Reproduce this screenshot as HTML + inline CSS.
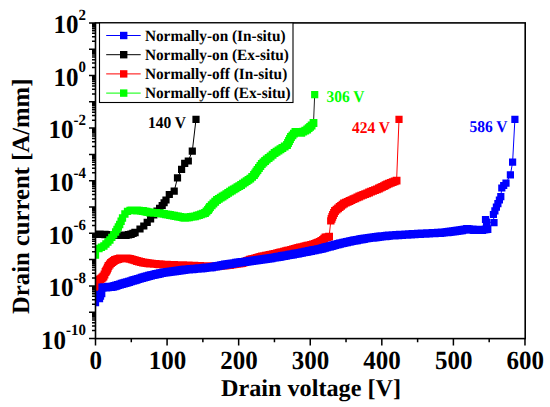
<!DOCTYPE html>
<html><head><meta charset="utf-8"><style>
html,body{margin:0;padding:0;background:#fff;width:550px;height:407px;overflow:hidden}
svg{display:block}
text{font-family:"Liberation Serif",serif;font-weight:bold;text-rendering:geometricPrecision}
</style></head><body>
<svg width="550" height="407" viewBox="0 0 550 407">
<rect width="550" height="407" fill="#fff"/>
<defs><clipPath id="pa"><rect x="95.4" y="22.9" width="429.8" height="315.7"/></clipPath></defs><g clip-path="url(#pa)">
<path d="M95.50,234.20 L97.75,234.25 L100.00,234.30 L102.50,234.40 L105.00,234.50 L107.00,234.64 L109.00,234.78 L111.00,234.92 L113.00,235.06 L115.00,235.20 L117.20,235.20 L119.40,235.20 L121.60,235.20 L123.80,235.20 L126.00,235.20 L128.50,234.75 L131.00,234.30 L133.00,233.40 L135.00,232.50 L140.00,229.00 L143.80,226.00 L147.20,222.40 L150.60,218.80 L153.80,214.90 L157.00,211.00 L159.60,208.25 L162.20,205.50 L164.10,202.75 L166.00,200.00 L169.30,194.50 L174.20,191.10 L177.50,177.90 L181.60,169.30 L184.70,163.40 L188.30,161.00 L192.30,151.10 L196.00,119.30" fill="none" stroke="#000" stroke-width="1"/>
<path d="M91.80,230.50h7.4v7.4h-7.4zM94.05,230.55h7.4v7.4h-7.4zM96.30,230.60h7.4v7.4h-7.4zM98.80,230.70h7.4v7.4h-7.4zM101.30,230.80h7.4v7.4h-7.4zM103.30,230.94h7.4v7.4h-7.4zM105.30,231.08h7.4v7.4h-7.4zM107.30,231.22h7.4v7.4h-7.4zM109.30,231.36h7.4v7.4h-7.4zM111.30,231.50h7.4v7.4h-7.4zM113.50,231.50h7.4v7.4h-7.4zM115.70,231.50h7.4v7.4h-7.4zM117.90,231.50h7.4v7.4h-7.4zM120.10,231.50h7.4v7.4h-7.4zM122.30,231.50h7.4v7.4h-7.4zM124.80,231.05h7.4v7.4h-7.4zM127.30,230.60h7.4v7.4h-7.4zM129.30,229.70h7.4v7.4h-7.4zM131.30,228.80h7.4v7.4h-7.4zM136.40,225.40h7.2v7.2h-7.2zM140.20,222.40h7.2v7.2h-7.2zM143.60,218.80h7.2v7.2h-7.2zM147.00,215.20h7.2v7.2h-7.2zM150.20,211.30h7.2v7.2h-7.2zM153.40,207.40h7.2v7.2h-7.2zM156.00,204.65h7.2v7.2h-7.2zM158.60,201.90h7.2v7.2h-7.2zM160.50,199.15h7.2v7.2h-7.2zM162.40,196.40h7.2v7.2h-7.2zM165.70,190.90h7.2v7.2h-7.2zM170.60,187.50h7.2v7.2h-7.2zM173.90,174.30h7.2v7.2h-7.2zM178.00,165.70h7.2v7.2h-7.2zM181.10,159.80h7.2v7.2h-7.2zM184.70,157.40h7.2v7.2h-7.2zM188.70,147.50h7.2v7.2h-7.2zM192.40,115.70h7.2v7.2h-7.2z" fill="#000"/>
<path d="M95.50,255.00 L95.50,252.50 L95.50,250.00 L99.00,248.50 L101.45,247.25 L103.90,246.00 L105.90,244.00 L107.90,242.00 L109.90,240.00 L111.80,237.33 L113.70,234.67 L115.60,232.00 L116.97,229.50 L118.33,227.00 L119.70,224.50 L121.10,221.25 L122.50,218.00 L124.90,214.00 L127.50,211.30 L130.00,210.50 L131.67,210.43 L133.33,210.37 L135.00,210.30 L137.00,210.48 L139.00,210.65 L141.00,210.82 L143.00,211.00 L144.75,211.38 L146.50,211.75 L148.25,212.12 L150.00,212.50 L152.00,212.64 L154.00,212.78 L156.00,212.92 L158.00,213.06 L160.00,213.20 L162.00,213.56 L164.00,213.92 L166.00,214.28 L168.00,214.64 L170.00,215.00 L172.00,215.38 L174.00,215.76 L176.00,216.14 L178.00,216.52 L180.00,216.90 L181.67,217.20 L183.33,217.50 L185.00,217.80 L187.00,217.52 L189.00,217.24 L191.00,216.96 L193.00,216.68 L195.00,216.40 L197.00,215.72 L199.00,215.04 L201.00,214.36 L203.00,213.68 L205.00,213.00 L206.50,211.50 L208.00,210.00 L209.00,208.50 L210.00,207.00 L211.70,205.25 L213.40,203.50 L215.20,201.75 L217.00,200.00 L218.87,198.83 L220.73,197.67 L222.60,196.50 L224.46,195.30 L226.32,194.10 L228.18,192.90 L230.04,191.70 L231.90,190.50 L233.74,189.40 L235.58,188.30 L237.42,187.20 L239.26,186.10 L241.10,185.00 L242.94,183.72 L244.78,182.44 L246.62,181.16 L248.46,179.88 L250.30,178.60 L252.15,176.80 L254.00,175.00 L255.17,173.33 L256.33,171.67 L257.50,170.00 L258.93,168.00 L260.37,166.00 L261.80,164.00 L263.43,162.50 L265.07,161.00 L266.70,159.50 L268.65,158.00 L270.60,156.50 L272.60,154.75 L274.60,153.00 L276.55,151.75 L278.50,150.50 L280.45,149.25 L282.40,148.00 L284.70,146.50 L287.00,145.00 L288.00,143.00 L289.00,141.00 L290.00,139.00 L291.00,137.00 L292.47,135.33 L293.93,133.67 L295.40,132.00 L297.37,132.27 L299.33,132.53 L301.30,132.80 L303.27,131.70 L305.23,130.60 L307.20,129.50 L308.67,128.17 L310.13,126.83 L311.60,125.50 L313.50,123.00 L314.70,94.70" fill="none" stroke="#222" stroke-width="1"/>
<path d="M91.85,251.35h7.3v7.3h-7.3zM91.85,248.85h7.3v7.3h-7.3zM91.85,246.35h7.3v7.3h-7.3zM95.35,244.85h7.3v7.3h-7.3zM97.80,243.60h7.3v7.3h-7.3zM100.25,242.35h7.3v7.3h-7.3zM102.25,240.35h7.3v7.3h-7.3zM104.25,238.35h7.3v7.3h-7.3zM106.25,236.35h7.3v7.3h-7.3zM108.15,233.68h7.3v7.3h-7.3zM110.05,231.02h7.3v7.3h-7.3zM111.95,228.35h7.3v7.3h-7.3zM113.32,225.85h7.3v7.3h-7.3zM114.68,223.35h7.3v7.3h-7.3zM116.05,220.85h7.3v7.3h-7.3zM117.45,217.60h7.3v7.3h-7.3zM118.85,214.35h7.3v7.3h-7.3zM121.25,210.35h7.3v7.3h-7.3zM123.85,207.65h7.3v7.3h-7.3zM126.35,206.85h7.3v7.3h-7.3zM127.77,206.53h7.8v7.8h-7.8zM129.43,206.47h7.8v7.8h-7.8zM131.10,206.40h7.8v7.8h-7.8zM133.10,206.58h7.8v7.8h-7.8zM135.10,206.75h7.8v7.8h-7.8zM137.10,206.92h7.8v7.8h-7.8zM139.10,207.10h7.8v7.8h-7.8zM140.85,207.47h7.8v7.8h-7.8zM142.60,207.85h7.8v7.8h-7.8zM144.35,208.22h7.8v7.8h-7.8zM146.10,208.60h7.8v7.8h-7.8zM148.10,208.74h7.8v7.8h-7.8zM150.10,208.88h7.8v7.8h-7.8zM152.10,209.02h7.8v7.8h-7.8zM154.10,209.16h7.8v7.8h-7.8zM156.10,209.30h7.8v7.8h-7.8zM158.10,209.66h7.8v7.8h-7.8zM160.10,210.02h7.8v7.8h-7.8zM162.10,210.38h7.8v7.8h-7.8zM164.10,210.74h7.8v7.8h-7.8zM166.10,211.10h7.8v7.8h-7.8zM168.10,211.48h7.8v7.8h-7.8zM170.10,211.86h7.8v7.8h-7.8zM172.10,212.24h7.8v7.8h-7.8zM174.10,212.62h7.8v7.8h-7.8zM176.10,213.00h7.8v7.8h-7.8zM177.77,213.30h7.8v7.8h-7.8zM179.43,213.60h7.8v7.8h-7.8zM181.10,213.90h7.8v7.8h-7.8zM183.10,213.62h7.8v7.8h-7.8zM185.10,213.34h7.8v7.8h-7.8zM187.10,213.06h7.8v7.8h-7.8zM189.10,212.78h7.8v7.8h-7.8zM191.10,212.50h7.8v7.8h-7.8zM193.10,211.82h7.8v7.8h-7.8zM195.10,211.14h7.8v7.8h-7.8zM197.10,210.46h7.8v7.8h-7.8zM199.10,209.78h7.8v7.8h-7.8zM201.10,209.10h7.8v7.8h-7.8zM202.60,207.60h7.8v7.8h-7.8zM204.10,206.10h7.8v7.8h-7.8zM205.10,204.60h7.8v7.8h-7.8zM206.10,203.10h7.8v7.8h-7.8zM207.80,201.35h7.8v7.8h-7.8zM209.50,199.60h7.8v7.8h-7.8zM211.30,197.85h7.8v7.8h-7.8zM213.10,196.10h7.8v7.8h-7.8zM214.97,194.93h7.8v7.8h-7.8zM216.83,193.77h7.8v7.8h-7.8zM218.70,192.60h7.8v7.8h-7.8zM220.56,191.40h7.8v7.8h-7.8zM222.42,190.20h7.8v7.8h-7.8zM224.28,189.00h7.8v7.8h-7.8zM226.14,187.80h7.8v7.8h-7.8zM228.00,186.60h7.8v7.8h-7.8zM229.84,185.50h7.8v7.8h-7.8zM231.68,184.40h7.8v7.8h-7.8zM233.52,183.30h7.8v7.8h-7.8zM235.36,182.20h7.8v7.8h-7.8zM237.20,181.10h7.8v7.8h-7.8zM239.04,179.82h7.8v7.8h-7.8zM240.88,178.54h7.8v7.8h-7.8zM242.72,177.26h7.8v7.8h-7.8zM244.56,175.98h7.8v7.8h-7.8zM246.40,174.70h7.8v7.8h-7.8zM248.25,172.90h7.8v7.8h-7.8zM250.10,171.10h7.8v7.8h-7.8zM251.27,169.43h7.8v7.8h-7.8zM252.43,167.77h7.8v7.8h-7.8zM253.60,166.10h7.8v7.8h-7.8zM255.03,164.10h7.8v7.8h-7.8zM256.47,162.10h7.8v7.8h-7.8zM257.90,160.10h7.8v7.8h-7.8zM259.53,158.60h7.8v7.8h-7.8zM261.17,157.10h7.8v7.8h-7.8zM262.80,155.60h7.8v7.8h-7.8zM264.75,154.10h7.8v7.8h-7.8zM266.70,152.60h7.8v7.8h-7.8zM268.70,150.85h7.8v7.8h-7.8zM270.70,149.10h7.8v7.8h-7.8zM272.65,147.85h7.8v7.8h-7.8zM274.60,146.60h7.8v7.8h-7.8zM276.55,145.35h7.8v7.8h-7.8zM278.50,144.10h7.8v7.8h-7.8zM280.80,142.60h7.8v7.8h-7.8zM283.10,141.10h7.8v7.8h-7.8zM284.10,139.10h7.8v7.8h-7.8zM285.10,137.10h7.8v7.8h-7.8zM286.10,135.10h7.8v7.8h-7.8zM287.10,133.10h7.8v7.8h-7.8zM288.57,131.43h7.8v7.8h-7.8zM290.03,129.77h7.8v7.8h-7.8zM291.50,128.10h7.8v7.8h-7.8zM293.47,128.37h7.8v7.8h-7.8zM295.43,128.63h7.8v7.8h-7.8zM297.40,128.90h7.8v7.8h-7.8zM299.37,127.80h7.8v7.8h-7.8zM301.33,126.70h7.8v7.8h-7.8zM303.30,125.60h7.8v7.8h-7.8zM304.77,124.27h7.8v7.8h-7.8zM306.23,122.93h7.8v7.8h-7.8zM307.70,121.60h7.8v7.8h-7.8zM309.60,119.10h7.8v7.8h-7.8zM311.10,91.10h7.2v7.2h-7.2z" fill="#00ff00"/>
<path d="M95.50,287.30 L95.50,282.00 L99.00,280.00 L100.25,279.25 L101.50,278.50 L102.50,277.50 L103.50,276.50 L104.50,274.50 L105.50,272.00 L106.25,270.75 L107.00,269.50 L107.75,267.75 L108.50,266.00 L109.75,264.50 L111.00,263.00 L112.33,262.00 L113.67,261.00 L115.00,260.00 L116.67,259.50 L118.33,259.00 L120.00,258.50 L121.67,258.43 L123.33,258.37 L125.00,258.30 L126.67,258.47 L128.33,258.63 L130.00,258.80 L131.75,259.35 L133.50,259.90 L135.25,260.45 L137.00,261.00 L139.00,261.50 L141.00,262.00 L143.00,262.50 L144.75,262.75 L146.50,263.00 L148.25,263.25 L150.00,263.50 L151.88,263.65 L153.75,263.80 L155.62,263.95 L157.50,264.10 L159.38,264.25 L161.25,264.40 L163.12,264.55 L165.00,264.70 L166.82,264.75 L168.64,264.81 L170.45,264.86 L172.27,264.92 L174.09,264.97 L175.91,265.03 L177.73,265.08 L179.55,265.14 L181.36,265.19 L183.18,265.25 L185.00,265.30 L186.88,265.39 L188.75,265.48 L190.62,265.56 L192.50,265.65 L194.38,265.74 L196.25,265.82 L198.12,265.91 L200.00,266.00 L201.78,266.04 L203.56,266.09 L205.33,266.13 L207.11,266.18 L208.89,266.22 L210.67,266.27 L212.44,266.31 L214.22,266.36 L216.00,266.40 L217.75,266.22 L219.50,266.05 L221.25,265.88 L223.00,265.70 L224.75,265.52 L226.50,265.35 L228.25,265.18 L230.00,265.00 L231.79,264.71 L233.57,264.43 L235.36,264.14 L237.14,263.86 L238.93,263.57 L240.71,263.29 L242.50,263.00 L244.00,262.34 L245.50,261.68 L247.00,261.02 L248.50,260.36 L250.00,259.70 L251.71,259.24 L253.43,258.79 L255.14,258.33 L256.86,257.87 L258.57,257.41 L260.29,256.96 L262.00,256.50 L263.86,256.11 L265.71,255.73 L267.57,255.34 L269.43,254.96 L271.29,254.57 L273.14,254.19 L275.00,253.80 L276.79,253.36 L278.57,252.93 L280.36,252.49 L282.15,252.05 L283.94,251.61 L285.73,251.18 L287.51,250.74 L289.30,250.30 L291.08,249.83 L292.87,249.37 L294.65,248.90 L296.43,248.43 L298.22,247.97 L300.00,247.50 L301.85,247.06 L303.70,246.62 L305.55,246.19 L307.40,245.75 L309.25,245.31 L311.10,244.88 L312.95,244.44 L314.80,244.00 L316.40,243.27 L318.00,242.53 L319.60,241.80 L321.30,240.90 L323.00,240.00 L324.25,238.75 L325.50,237.50 L327.30,237.05 L329.10,236.60 L330.80,220.90 L331.53,218.93 L332.27,216.97 L333.00,215.00 L334.00,213.00 L335.00,211.00 L336.53,209.67 L338.07,208.33 L339.60,207.00 L341.07,205.83 L342.53,204.67 L344.00,203.50 L345.83,202.67 L347.67,201.83 L349.50,201.00 L351.46,200.10 L353.42,199.20 L355.38,198.30 L357.34,197.40 L359.30,196.50 L361.26,195.70 L363.22,194.90 L365.18,194.10 L367.14,193.30 L369.10,192.50 L371.06,191.70 L373.02,190.90 L374.98,190.10 L376.94,189.30 L378.90,188.50 L380.55,187.68 L382.20,186.87 L383.85,186.05 L385.50,185.23 L387.15,184.42 L388.80,183.60 L390.75,182.85 L392.70,182.10 L394.65,181.35 L396.60,180.60 L399.00,119.40" fill="none" stroke="#ff0000" stroke-width="1"/>
<path d="M91.85,283.65h7.3v7.3h-7.3zM91.85,278.35h7.3v7.3h-7.3zM95.10,276.10h7.8v7.8h-7.8zM96.35,275.35h7.8v7.8h-7.8zM97.60,274.60h7.8v7.8h-7.8zM98.60,273.60h7.8v7.8h-7.8zM99.60,272.60h7.8v7.8h-7.8zM100.60,270.60h7.8v7.8h-7.8zM101.60,268.10h7.8v7.8h-7.8zM102.35,266.85h7.8v7.8h-7.8zM103.10,265.60h7.8v7.8h-7.8zM103.85,263.85h7.8v7.8h-7.8zM104.60,262.10h7.8v7.8h-7.8zM105.85,260.60h7.8v7.8h-7.8zM107.10,259.10h7.8v7.8h-7.8zM108.43,258.10h7.8v7.8h-7.8zM109.77,257.10h7.8v7.8h-7.8zM111.10,256.10h7.8v7.8h-7.8zM112.77,255.60h7.8v7.8h-7.8zM114.43,255.10h7.8v7.8h-7.8zM116.10,254.60h7.8v7.8h-7.8zM117.77,254.53h7.8v7.8h-7.8zM119.43,254.47h7.8v7.8h-7.8zM121.10,254.40h7.8v7.8h-7.8zM122.77,254.57h7.8v7.8h-7.8zM124.43,254.73h7.8v7.8h-7.8zM126.10,254.90h7.8v7.8h-7.8zM127.85,255.45h7.8v7.8h-7.8zM129.60,256.00h7.8v7.8h-7.8zM131.35,256.55h7.8v7.8h-7.8zM133.10,257.10h7.8v7.8h-7.8zM135.10,257.60h7.8v7.8h-7.8zM137.10,258.10h7.8v7.8h-7.8zM139.10,258.60h7.8v7.8h-7.8zM140.85,258.85h7.8v7.8h-7.8zM142.60,259.10h7.8v7.8h-7.8zM144.35,259.35h7.8v7.8h-7.8zM146.10,259.60h7.8v7.8h-7.8zM147.97,259.75h7.8v7.8h-7.8zM149.85,259.90h7.8v7.8h-7.8zM151.72,260.05h7.8v7.8h-7.8zM153.60,260.20h7.8v7.8h-7.8zM155.47,260.35h7.8v7.8h-7.8zM157.35,260.50h7.8v7.8h-7.8zM159.22,260.65h7.8v7.8h-7.8zM161.10,260.80h7.8v7.8h-7.8zM162.92,260.85h7.8v7.8h-7.8zM164.74,260.91h7.8v7.8h-7.8zM166.55,260.96h7.8v7.8h-7.8zM168.37,261.02h7.8v7.8h-7.8zM170.19,261.07h7.8v7.8h-7.8zM172.01,261.13h7.8v7.8h-7.8zM173.83,261.18h7.8v7.8h-7.8zM175.65,261.24h7.8v7.8h-7.8zM177.46,261.29h7.8v7.8h-7.8zM179.28,261.35h7.8v7.8h-7.8zM181.10,261.40h7.8v7.8h-7.8zM182.97,261.49h7.8v7.8h-7.8zM184.85,261.58h7.8v7.8h-7.8zM186.72,261.66h7.8v7.8h-7.8zM188.60,261.75h7.8v7.8h-7.8zM190.47,261.84h7.8v7.8h-7.8zM192.35,261.93h7.8v7.8h-7.8zM194.22,262.01h7.8v7.8h-7.8zM196.10,262.10h7.8v7.8h-7.8zM197.88,262.14h7.8v7.8h-7.8zM199.66,262.19h7.8v7.8h-7.8zM201.43,262.23h7.8v7.8h-7.8zM203.21,262.28h7.8v7.8h-7.8zM204.99,262.32h7.8v7.8h-7.8zM206.77,262.37h7.8v7.8h-7.8zM208.54,262.41h7.8v7.8h-7.8zM210.32,262.46h7.8v7.8h-7.8zM212.10,262.50h7.8v7.8h-7.8zM213.85,262.32h7.8v7.8h-7.8zM215.60,262.15h7.8v7.8h-7.8zM217.35,261.98h7.8v7.8h-7.8zM219.10,261.80h7.8v7.8h-7.8zM220.85,261.62h7.8v7.8h-7.8zM222.60,261.45h7.8v7.8h-7.8zM224.35,261.28h7.8v7.8h-7.8zM226.10,261.10h7.8v7.8h-7.8zM227.89,260.81h7.8v7.8h-7.8zM229.67,260.53h7.8v7.8h-7.8zM231.46,260.24h7.8v7.8h-7.8zM233.24,259.96h7.8v7.8h-7.8zM235.03,259.67h7.8v7.8h-7.8zM236.81,259.39h7.8v7.8h-7.8zM238.60,259.10h7.8v7.8h-7.8zM240.10,258.44h7.8v7.8h-7.8zM241.60,257.78h7.8v7.8h-7.8zM243.10,257.12h7.8v7.8h-7.8zM244.60,256.46h7.8v7.8h-7.8zM246.10,255.80h7.8v7.8h-7.8zM247.81,255.34h7.8v7.8h-7.8zM249.53,254.89h7.8v7.8h-7.8zM251.24,254.43h7.8v7.8h-7.8zM252.96,253.97h7.8v7.8h-7.8zM254.67,253.51h7.8v7.8h-7.8zM256.39,253.06h7.8v7.8h-7.8zM258.10,252.60h7.8v7.8h-7.8zM259.96,252.21h7.8v7.8h-7.8zM261.81,251.83h7.8v7.8h-7.8zM263.67,251.44h7.8v7.8h-7.8zM265.53,251.06h7.8v7.8h-7.8zM267.39,250.67h7.8v7.8h-7.8zM269.24,250.29h7.8v7.8h-7.8zM271.10,249.90h7.8v7.8h-7.8zM272.89,249.46h7.8v7.8h-7.8zM274.68,249.03h7.8v7.8h-7.8zM276.46,248.59h7.8v7.8h-7.8zM278.25,248.15h7.8v7.8h-7.8zM280.04,247.71h7.8v7.8h-7.8zM281.83,247.28h7.8v7.8h-7.8zM283.61,246.84h7.8v7.8h-7.8zM285.40,246.40h7.8v7.8h-7.8zM287.18,245.93h7.8v7.8h-7.8zM288.97,245.47h7.8v7.8h-7.8zM290.75,245.00h7.8v7.8h-7.8zM292.53,244.53h7.8v7.8h-7.8zM294.32,244.07h7.8v7.8h-7.8zM296.10,243.60h7.8v7.8h-7.8zM297.95,243.16h7.8v7.8h-7.8zM299.80,242.72h7.8v7.8h-7.8zM301.65,242.29h7.8v7.8h-7.8zM303.50,241.85h7.8v7.8h-7.8zM305.35,241.41h7.8v7.8h-7.8zM307.20,240.97h7.8v7.8h-7.8zM309.05,240.54h7.8v7.8h-7.8zM310.90,240.10h7.8v7.8h-7.8zM312.50,239.37h7.8v7.8h-7.8zM314.10,238.63h7.8v7.8h-7.8zM315.70,237.90h7.8v7.8h-7.8zM317.40,237.00h7.8v7.8h-7.8zM319.10,236.10h7.8v7.8h-7.8zM320.35,234.85h7.8v7.8h-7.8zM321.60,233.60h7.8v7.8h-7.8zM323.40,233.15h7.8v7.8h-7.8zM325.20,232.70h7.8v7.8h-7.8zM327.10,217.20h7.4v7.4h-7.4zM327.63,215.03h7.8v7.8h-7.8zM328.37,213.07h7.8v7.8h-7.8zM329.10,211.10h7.8v7.8h-7.8zM330.10,209.10h7.8v7.8h-7.8zM331.10,207.10h7.8v7.8h-7.8zM332.63,205.77h7.8v7.8h-7.8zM334.17,204.43h7.8v7.8h-7.8zM335.70,203.10h7.8v7.8h-7.8zM337.17,201.93h7.8v7.8h-7.8zM338.63,200.77h7.8v7.8h-7.8zM340.10,199.60h7.8v7.8h-7.8zM341.93,198.77h7.8v7.8h-7.8zM343.77,197.93h7.8v7.8h-7.8zM345.60,197.10h7.8v7.8h-7.8zM347.56,196.20h7.8v7.8h-7.8zM349.52,195.30h7.8v7.8h-7.8zM351.48,194.40h7.8v7.8h-7.8zM353.44,193.50h7.8v7.8h-7.8zM355.40,192.60h7.8v7.8h-7.8zM357.36,191.80h7.8v7.8h-7.8zM359.32,191.00h7.8v7.8h-7.8zM361.28,190.20h7.8v7.8h-7.8zM363.24,189.40h7.8v7.8h-7.8zM365.20,188.60h7.8v7.8h-7.8zM367.16,187.80h7.8v7.8h-7.8zM369.12,187.00h7.8v7.8h-7.8zM371.08,186.20h7.8v7.8h-7.8zM373.04,185.40h7.8v7.8h-7.8zM375.00,184.60h7.8v7.8h-7.8zM376.65,183.78h7.8v7.8h-7.8zM378.30,182.97h7.8v7.8h-7.8zM379.95,182.15h7.8v7.8h-7.8zM381.60,181.33h7.8v7.8h-7.8zM383.25,180.52h7.8v7.8h-7.8zM384.90,179.70h7.8v7.8h-7.8zM386.85,178.95h7.8v7.8h-7.8zM388.80,178.20h7.8v7.8h-7.8zM390.75,177.45h7.8v7.8h-7.8zM392.70,176.70h7.8v7.8h-7.8zM395.40,115.80h7.2v7.2h-7.2z" fill="#ff0000"/>
<path d="M95.50,302.60 L95.50,298.00 L95.50,294.50 L99.50,298.50 L100.50,296.00 L101.70,293.50 L102.50,287.60 L104.25,287.45 L106.00,287.30 L107.67,287.12 L109.35,286.95 L111.03,286.78 L112.70,286.60 L114.51,286.07 L116.33,285.54 L118.14,285.01 L119.96,284.49 L121.77,283.96 L123.59,283.43 L125.40,282.90 L127.23,282.34 L129.06,281.79 L130.89,281.23 L132.71,280.67 L134.54,280.11 L136.37,279.56 L138.20,279.00 L140.01,278.49 L141.83,277.97 L143.64,277.46 L145.46,276.94 L147.27,276.43 L149.09,275.91 L150.90,275.40 L152.71,275.00 L154.53,274.60 L156.34,274.20 L158.16,273.80 L159.97,273.40 L161.79,273.00 L163.60,272.60 L165.50,272.37 L167.40,272.13 L169.30,271.90 L171.20,271.67 L173.10,271.43 L175.00,271.20 L176.74,270.92 L178.48,270.64 L180.22,270.36 L181.96,270.08 L183.70,269.80 L185.43,269.65 L187.16,269.50 L188.89,269.35 L190.62,269.20 L192.35,269.05 L194.08,268.90 L195.81,268.75 L197.54,268.60 L199.27,268.45 L201.00,268.30 L202.83,268.10 L204.67,267.90 L206.50,267.70 L208.33,267.50 L210.17,267.30 L212.00,267.10 L213.86,266.76 L215.71,266.41 L217.57,266.07 L219.43,265.73 L221.29,265.39 L223.14,265.04 L225.00,264.70 L226.88,264.41 L228.75,264.12 L230.62,263.84 L232.50,263.55 L234.38,263.26 L236.25,262.97 L238.12,262.69 L240.00,262.40 L241.67,262.20 L243.33,262.00 L245.00,261.80 L246.67,261.60 L248.33,261.40 L250.00,261.20 L251.79,260.94 L253.57,260.67 L255.36,260.41 L257.14,260.14 L258.93,259.88 L260.71,259.61 L262.50,259.35 L264.29,259.09 L266.07,258.82 L267.86,258.56 L269.64,258.29 L271.43,258.03 L273.21,257.76 L275.00,257.50 L276.79,257.18 L278.57,256.86 L280.36,256.54 L282.14,256.21 L283.93,255.89 L285.71,255.57 L287.50,255.25 L289.29,254.93 L291.07,254.61 L292.86,254.29 L294.64,253.96 L296.43,253.64 L298.21,253.32 L300.00,253.00 L301.82,252.64 L303.64,252.27 L305.45,251.91 L307.27,251.55 L309.09,251.18 L310.91,250.82 L312.73,250.45 L314.55,250.09 L316.36,249.73 L318.18,249.36 L320.00,249.00 L321.67,248.55 L323.33,248.10 L325.00,247.65 L326.67,247.20 L328.33,246.75 L330.00,246.30 L331.67,245.85 L333.33,245.40 L335.00,244.95 L336.67,244.50 L338.33,244.05 L340.00,243.60 L341.71,243.23 L343.43,242.86 L345.14,242.49 L346.86,242.11 L348.57,241.74 L350.29,241.37 L352.00,241.00 L353.68,240.69 L355.35,240.38 L357.02,240.06 L358.70,239.75 L360.38,239.44 L362.05,239.12 L363.72,238.81 L365.40,238.50 L367.20,238.26 L369.00,238.01 L370.80,237.77 L372.60,237.53 L374.40,237.29 L376.20,237.04 L378.00,236.80 L379.84,236.61 L381.69,236.43 L383.53,236.24 L385.37,236.06 L387.21,235.87 L389.06,235.69 L390.90,235.50 L392.71,235.39 L394.53,235.29 L396.34,235.18 L398.16,235.07 L399.97,234.96 L401.79,234.86 L403.60,234.75 L405.41,234.64 L407.23,234.54 L409.04,234.43 L410.86,234.32 L412.67,234.21 L414.49,234.11 L416.30,234.00 L418.12,233.91 L419.94,233.81 L421.76,233.72 L423.59,233.63 L425.41,233.54 L427.23,233.44 L429.05,233.35 L430.87,233.26 L432.69,233.16 L434.51,233.07 L436.34,232.98 L438.16,232.89 L439.98,232.79 L441.80,232.70 L443.69,232.49 L445.57,232.27 L447.46,232.06 L449.34,231.84 L451.23,231.63 L453.11,231.41 L455.00,231.20 L456.74,230.91 L458.49,230.63 L460.23,230.34 L461.97,230.06 L463.71,229.77 L465.46,229.49 L467.20,229.20 L468.96,229.36 L470.72,229.52 L472.48,229.68 L474.24,229.84 L476.00,230.00 L478.00,229.93 L480.00,229.87 L482.00,229.80 L483.83,229.60 L485.67,229.40 L487.50,229.20 L485.50,219.50 L486.50,222.00 L494.00,222.60 L493.40,214.50 L494.90,210.80 L496.40,207.20 L497.90,203.60 L499.40,200.00 L500.80,196.60 L501.80,188.00 L503.70,185.50 L506.00,183.20 L510.40,174.80 L512.60,162.20 L514.90,119.30" fill="none" stroke="#0000ff" stroke-width="1"/>
<path d="M91.85,298.95h7.3v7.3h-7.3zM91.85,294.35h7.3v7.3h-7.3zM91.85,290.85h7.3v7.3h-7.3zM95.85,294.85h7.3v7.3h-7.3zM96.85,292.35h7.3v7.3h-7.3zM98.05,289.85h7.3v7.3h-7.3zM98.40,283.50h8.2v8.2h-8.2zM100.15,283.35h8.2v8.2h-8.2zM101.90,283.20h8.2v8.2h-8.2zM103.58,283.02h8.2v8.2h-8.2zM105.25,282.85h8.2v8.2h-8.2zM106.93,282.68h8.2v8.2h-8.2zM108.60,282.50h8.2v8.2h-8.2zM110.41,281.97h8.2v8.2h-8.2zM112.23,281.44h8.2v8.2h-8.2zM114.04,280.91h8.2v8.2h-8.2zM115.86,280.39h8.2v8.2h-8.2zM117.67,279.86h8.2v8.2h-8.2zM119.49,279.33h8.2v8.2h-8.2zM121.30,278.80h8.2v8.2h-8.2zM123.13,278.24h8.2v8.2h-8.2zM124.96,277.69h8.2v8.2h-8.2zM126.79,277.13h8.2v8.2h-8.2zM128.61,276.57h8.2v8.2h-8.2zM130.44,276.01h8.2v8.2h-8.2zM132.27,275.46h8.2v8.2h-8.2zM134.10,274.90h8.2v8.2h-8.2zM135.91,274.39h8.2v8.2h-8.2zM137.73,273.87h8.2v8.2h-8.2zM139.54,273.36h8.2v8.2h-8.2zM141.36,272.84h8.2v8.2h-8.2zM143.17,272.33h8.2v8.2h-8.2zM144.99,271.81h8.2v8.2h-8.2zM146.80,271.30h8.2v8.2h-8.2zM148.61,270.90h8.2v8.2h-8.2zM150.43,270.50h8.2v8.2h-8.2zM152.24,270.10h8.2v8.2h-8.2zM154.06,269.70h8.2v8.2h-8.2zM155.87,269.30h8.2v8.2h-8.2zM157.69,268.90h8.2v8.2h-8.2zM159.50,268.50h8.2v8.2h-8.2zM161.40,268.27h8.2v8.2h-8.2zM163.30,268.03h8.2v8.2h-8.2zM165.20,267.80h8.2v8.2h-8.2zM167.10,267.57h8.2v8.2h-8.2zM169.00,267.33h8.2v8.2h-8.2zM170.90,267.10h8.2v8.2h-8.2zM172.64,266.82h8.2v8.2h-8.2zM174.38,266.54h8.2v8.2h-8.2zM176.12,266.26h8.2v8.2h-8.2zM177.86,265.98h8.2v8.2h-8.2zM179.60,265.70h8.2v8.2h-8.2zM181.33,265.55h8.2v8.2h-8.2zM183.06,265.40h8.2v8.2h-8.2zM184.79,265.25h8.2v8.2h-8.2zM186.52,265.10h8.2v8.2h-8.2zM188.25,264.95h8.2v8.2h-8.2zM189.98,264.80h8.2v8.2h-8.2zM191.71,264.65h8.2v8.2h-8.2zM193.44,264.50h8.2v8.2h-8.2zM195.17,264.35h8.2v8.2h-8.2zM196.90,264.20h8.2v8.2h-8.2zM198.73,264.00h8.2v8.2h-8.2zM200.57,263.80h8.2v8.2h-8.2zM202.40,263.60h8.2v8.2h-8.2zM204.23,263.40h8.2v8.2h-8.2zM206.07,263.20h8.2v8.2h-8.2zM207.90,263.00h8.2v8.2h-8.2zM209.76,262.66h8.2v8.2h-8.2zM211.61,262.31h8.2v8.2h-8.2zM213.47,261.97h8.2v8.2h-8.2zM215.33,261.63h8.2v8.2h-8.2zM217.19,261.29h8.2v8.2h-8.2zM219.04,260.94h8.2v8.2h-8.2zM220.90,260.60h8.2v8.2h-8.2zM222.78,260.31h8.2v8.2h-8.2zM224.65,260.02h8.2v8.2h-8.2zM226.53,259.74h8.2v8.2h-8.2zM228.40,259.45h8.2v8.2h-8.2zM230.28,259.16h8.2v8.2h-8.2zM232.15,258.87h8.2v8.2h-8.2zM234.03,258.59h8.2v8.2h-8.2zM235.90,258.30h8.2v8.2h-8.2zM237.57,258.10h8.2v8.2h-8.2zM239.23,257.90h8.2v8.2h-8.2zM240.90,257.70h8.2v8.2h-8.2zM242.57,257.50h8.2v8.2h-8.2zM244.23,257.30h8.2v8.2h-8.2zM245.90,257.10h8.2v8.2h-8.2zM247.69,256.84h8.2v8.2h-8.2zM249.47,256.57h8.2v8.2h-8.2zM251.26,256.31h8.2v8.2h-8.2zM253.04,256.04h8.2v8.2h-8.2zM254.83,255.78h8.2v8.2h-8.2zM256.61,255.51h8.2v8.2h-8.2zM258.40,255.25h8.2v8.2h-8.2zM260.19,254.99h8.2v8.2h-8.2zM261.97,254.72h8.2v8.2h-8.2zM263.76,254.46h8.2v8.2h-8.2zM265.54,254.19h8.2v8.2h-8.2zM267.33,253.93h8.2v8.2h-8.2zM269.11,253.66h8.2v8.2h-8.2zM270.90,253.40h8.2v8.2h-8.2zM272.69,253.08h8.2v8.2h-8.2zM274.47,252.76h8.2v8.2h-8.2zM276.26,252.44h8.2v8.2h-8.2zM278.04,252.11h8.2v8.2h-8.2zM279.83,251.79h8.2v8.2h-8.2zM281.61,251.47h8.2v8.2h-8.2zM283.40,251.15h8.2v8.2h-8.2zM285.19,250.83h8.2v8.2h-8.2zM286.97,250.51h8.2v8.2h-8.2zM288.76,250.19h8.2v8.2h-8.2zM290.54,249.86h8.2v8.2h-8.2zM292.33,249.54h8.2v8.2h-8.2zM294.11,249.22h8.2v8.2h-8.2zM295.90,248.90h8.2v8.2h-8.2zM297.72,248.54h8.2v8.2h-8.2zM299.54,248.17h8.2v8.2h-8.2zM301.35,247.81h8.2v8.2h-8.2zM303.17,247.45h8.2v8.2h-8.2zM304.99,247.08h8.2v8.2h-8.2zM306.81,246.72h8.2v8.2h-8.2zM308.63,246.35h8.2v8.2h-8.2zM310.45,245.99h8.2v8.2h-8.2zM312.26,245.63h8.2v8.2h-8.2zM314.08,245.26h8.2v8.2h-8.2zM315.90,244.90h8.2v8.2h-8.2zM317.57,244.45h8.2v8.2h-8.2zM319.23,244.00h8.2v8.2h-8.2zM320.90,243.55h8.2v8.2h-8.2zM322.57,243.10h8.2v8.2h-8.2zM324.23,242.65h8.2v8.2h-8.2zM325.90,242.20h8.2v8.2h-8.2zM327.57,241.75h8.2v8.2h-8.2zM329.23,241.30h8.2v8.2h-8.2zM330.90,240.85h8.2v8.2h-8.2zM332.57,240.40h8.2v8.2h-8.2zM334.23,239.95h8.2v8.2h-8.2zM335.90,239.50h8.2v8.2h-8.2zM337.61,239.13h8.2v8.2h-8.2zM339.33,238.76h8.2v8.2h-8.2zM341.04,238.39h8.2v8.2h-8.2zM342.76,238.01h8.2v8.2h-8.2zM344.47,237.64h8.2v8.2h-8.2zM346.19,237.27h8.2v8.2h-8.2zM347.90,236.90h8.2v8.2h-8.2zM349.57,236.59h8.2v8.2h-8.2zM351.25,236.28h8.2v8.2h-8.2zM352.92,235.96h8.2v8.2h-8.2zM354.60,235.65h8.2v8.2h-8.2zM356.27,235.34h8.2v8.2h-8.2zM357.95,235.03h8.2v8.2h-8.2zM359.62,234.71h8.2v8.2h-8.2zM361.30,234.40h8.2v8.2h-8.2zM363.10,234.16h8.2v8.2h-8.2zM364.90,233.91h8.2v8.2h-8.2zM366.70,233.67h8.2v8.2h-8.2zM368.50,233.43h8.2v8.2h-8.2zM370.30,233.19h8.2v8.2h-8.2zM372.10,232.94h8.2v8.2h-8.2zM373.90,232.70h8.2v8.2h-8.2zM375.74,232.51h8.2v8.2h-8.2zM377.59,232.33h8.2v8.2h-8.2zM379.43,232.14h8.2v8.2h-8.2zM381.27,231.96h8.2v8.2h-8.2zM383.11,231.77h8.2v8.2h-8.2zM384.96,231.59h8.2v8.2h-8.2zM386.80,231.40h8.2v8.2h-8.2zM388.61,231.29h8.2v8.2h-8.2zM390.43,231.19h8.2v8.2h-8.2zM392.24,231.08h8.2v8.2h-8.2zM394.06,230.97h8.2v8.2h-8.2zM395.87,230.86h8.2v8.2h-8.2zM397.69,230.76h8.2v8.2h-8.2zM399.50,230.65h8.2v8.2h-8.2zM401.31,230.54h8.2v8.2h-8.2zM403.13,230.44h8.2v8.2h-8.2zM404.94,230.33h8.2v8.2h-8.2zM406.76,230.22h8.2v8.2h-8.2zM408.57,230.11h8.2v8.2h-8.2zM410.39,230.01h8.2v8.2h-8.2zM412.20,229.90h8.2v8.2h-8.2zM414.02,229.81h8.2v8.2h-8.2zM415.84,229.71h8.2v8.2h-8.2zM417.66,229.62h8.2v8.2h-8.2zM419.49,229.53h8.2v8.2h-8.2zM421.31,229.44h8.2v8.2h-8.2zM423.13,229.34h8.2v8.2h-8.2zM424.95,229.25h8.2v8.2h-8.2zM426.77,229.16h8.2v8.2h-8.2zM428.59,229.06h8.2v8.2h-8.2zM430.41,228.97h8.2v8.2h-8.2zM432.24,228.88h8.2v8.2h-8.2zM434.06,228.79h8.2v8.2h-8.2zM435.88,228.69h8.2v8.2h-8.2zM437.70,228.60h8.2v8.2h-8.2zM439.59,228.39h8.2v8.2h-8.2zM441.47,228.17h8.2v8.2h-8.2zM443.36,227.96h8.2v8.2h-8.2zM445.24,227.74h8.2v8.2h-8.2zM447.13,227.53h8.2v8.2h-8.2zM449.01,227.31h8.2v8.2h-8.2zM450.90,227.10h8.2v8.2h-8.2zM452.64,226.81h8.2v8.2h-8.2zM454.39,226.53h8.2v8.2h-8.2zM456.13,226.24h8.2v8.2h-8.2zM457.87,225.96h8.2v8.2h-8.2zM459.61,225.67h8.2v8.2h-8.2zM461.36,225.39h8.2v8.2h-8.2zM463.10,225.10h8.2v8.2h-8.2zM464.86,225.26h8.2v8.2h-8.2zM466.62,225.42h8.2v8.2h-8.2zM468.38,225.58h8.2v8.2h-8.2zM470.14,225.74h8.2v8.2h-8.2zM471.90,225.90h8.2v8.2h-8.2zM473.90,225.83h8.2v8.2h-8.2zM475.90,225.77h8.2v8.2h-8.2zM477.90,225.70h8.2v8.2h-8.2zM479.93,225.70h7.8v7.8h-7.8zM481.77,225.50h7.8v7.8h-7.8zM483.60,225.30h7.8v7.8h-7.8zM481.90,215.90h7.2v7.2h-7.2zM482.90,218.40h7.2v7.2h-7.2zM490.40,219.00h7.2v7.2h-7.2zM489.80,210.90h7.2v7.2h-7.2zM491.30,207.20h7.2v7.2h-7.2zM492.80,203.60h7.2v7.2h-7.2zM494.30,200.00h7.2v7.2h-7.2zM495.80,196.40h7.2v7.2h-7.2zM497.20,193.00h7.2v7.2h-7.2zM498.20,184.40h7.2v7.2h-7.2zM500.10,181.90h7.2v7.2h-7.2zM502.40,179.60h7.2v7.2h-7.2zM506.80,171.20h7.2v7.2h-7.2zM509.00,158.60h7.2v7.2h-7.2zM511.30,115.70h7.2v7.2h-7.2z" fill="#0000ff"/>
</g>
<path d="M89.00,338.50H95.50M92.00,330.58H95.50M92.00,325.95H95.50M92.00,322.67H95.50M92.00,320.12H95.50M92.00,318.03H95.50M92.00,316.27H95.50M92.00,314.75H95.50M92.00,313.40H95.50M89.00,312.20H95.50M92.00,304.28H95.50M92.00,299.65H95.50M92.00,296.37H95.50M92.00,293.82H95.50M92.00,291.73H95.50M92.00,289.97H95.50M92.00,288.45H95.50M92.00,287.10H95.50M89.00,285.90H95.50M92.00,277.98H95.50M92.00,273.35H95.50M92.00,270.07H95.50M92.00,267.52H95.50M92.00,265.43H95.50M92.00,263.67H95.50M92.00,262.15H95.50M92.00,260.80H95.50M89.00,259.60H95.50M92.00,251.68H95.50M92.00,247.05H95.50M92.00,243.77H95.50M92.00,241.22H95.50M92.00,239.13H95.50M92.00,237.37H95.50M92.00,235.85H95.50M92.00,234.50H95.50M89.00,233.30H95.50M92.00,225.38H95.50M92.00,220.75H95.50M92.00,217.47H95.50M92.00,214.92H95.50M92.00,212.83H95.50M92.00,211.07H95.50M92.00,209.55H95.50M92.00,208.20H95.50M89.00,207.00H95.50M92.00,199.08H95.50M92.00,194.45H95.50M92.00,191.17H95.50M92.00,188.62H95.50M92.00,186.53H95.50M92.00,184.77H95.50M92.00,183.25H95.50M92.00,181.90H95.50M89.00,180.70H95.50M92.00,172.78H95.50M92.00,168.15H95.50M92.00,164.87H95.50M92.00,162.32H95.50M92.00,160.23H95.50M92.00,158.47H95.50M92.00,156.95H95.50M92.00,155.60H95.50M89.00,154.40H95.50M92.00,146.48H95.50M92.00,141.85H95.50M92.00,138.57H95.50M92.00,136.02H95.50M92.00,133.93H95.50M92.00,132.17H95.50M92.00,130.65H95.50M92.00,129.30H95.50M89.00,128.10H95.50M92.00,120.18H95.50M92.00,115.55H95.50M92.00,112.27H95.50M92.00,109.72H95.50M92.00,107.63H95.50M92.00,105.87H95.50M92.00,104.35H95.50M92.00,103.00H95.50M89.00,101.80H95.50M92.00,93.88H95.50M92.00,89.25H95.50M92.00,85.97H95.50M92.00,83.42H95.50M92.00,81.33H95.50M92.00,79.57H95.50M92.00,78.05H95.50M92.00,76.70H95.50M89.00,75.50H95.50M92.00,67.58H95.50M92.00,62.95H95.50M92.00,59.67H95.50M92.00,57.12H95.50M92.00,55.03H95.50M92.00,53.27H95.50M92.00,51.75H95.50M92.00,50.40H95.50M89.00,49.20H95.50M92.00,41.28H95.50M92.00,36.65H95.50M92.00,33.37H95.50M92.00,30.82H95.50M92.00,28.73H95.50M92.00,26.97H95.50M92.00,25.45H95.50M92.00,24.10H95.50M89.00,22.90H95.50M95.50,338.60V345.40M131.29,338.60V342.20M167.08,338.60V345.40M202.87,338.60V342.20M238.66,338.60V345.40M274.45,338.60V342.20M310.24,338.60V345.40M346.03,338.60V342.20M381.82,338.60V345.40M417.61,338.60V342.20M453.40,338.60V345.40M489.19,338.60V342.20M524.98,338.60V345.40" stroke="#000" stroke-width="1.5" fill="none"/>
<rect x="95.50" y="22.90" width="429.70" height="315.70" fill="none" stroke="#000" stroke-width="1.6"/>
<rect x="99.5" y="22.9" width="193.5" height="79.6" fill="#fff" stroke="#000" stroke-width="1.1"/>
<path d="M106.2,35.50H140.7" stroke="#0000ff" stroke-width="1"/>
<rect x="120.00" y="31.80" width="7.4" height="7.4" fill="#0000ff"/>
<text transform="translate(144.9,40.80) scale(1,1.035)" font-size="15.3">Normally-on (In-situ)</text>
<path d="M106.2,54.70H140.7" stroke="#000" stroke-width="1"/>
<rect x="120.00" y="51.00" width="7.4" height="7.4" fill="#000"/>
<text transform="translate(144.9,60.00) scale(1,1.035)" font-size="15.3">Normally-on (Ex-situ)</text>
<path d="M106.2,73.90H140.7" stroke="#ff0000" stroke-width="1"/>
<rect x="120.00" y="70.20" width="7.4" height="7.4" fill="#ff0000"/>
<text transform="translate(144.9,79.20) scale(1,1.035)" font-size="15.3">Normally-off (In-situ)</text>
<path d="M106.2,93.10H140.7" stroke="#00ff00" stroke-width="1"/>
<rect x="120.00" y="89.40" width="7.4" height="7.4" fill="#00ff00"/>
<text transform="translate(144.9,98.40) scale(1,1.035)" font-size="15.3">Normally-off (Ex-situ)</text>
<text transform="translate(95.80,369) scale(1,1.050)" font-size="25" text-anchor="middle">0</text>
<text transform="translate(167.38,369) scale(1,1.050)" font-size="25" text-anchor="middle">100</text>
<text transform="translate(238.96,369) scale(1,1.050)" font-size="25" text-anchor="middle">200</text>
<text transform="translate(310.54,369) scale(1,1.050)" font-size="25" text-anchor="middle">300</text>
<text transform="translate(382.12,369) scale(1,1.050)" font-size="25" text-anchor="middle">400</text>
<text transform="translate(453.70,369) scale(1,1.050)" font-size="25" text-anchor="middle">500</text>
<text transform="translate(525.28,369) scale(1,1.050)" font-size="25" text-anchor="middle">600</text>
<text transform="translate(85.9,348.70) scale(1,1.050)" font-size="25" text-anchor="end">10<tspan dy="-12.6" font-size="14.9">-10</tspan></text>
<text transform="translate(85.9,296.10) scale(1,1.050)" font-size="25" text-anchor="end">10<tspan dy="-12.6" font-size="14.9">-8</tspan></text>
<text transform="translate(85.9,243.50) scale(1,1.050)" font-size="25" text-anchor="end">10<tspan dy="-12.6" font-size="14.9">-6</tspan></text>
<text transform="translate(85.9,190.90) scale(1,1.050)" font-size="25" text-anchor="end">10<tspan dy="-12.6" font-size="14.9">-4</tspan></text>
<text transform="translate(85.9,138.30) scale(1,1.050)" font-size="25" text-anchor="end">10<tspan dy="-12.6" font-size="14.9">-2</tspan></text>
<text transform="translate(85.9,85.70) scale(1,1.050)" font-size="25" text-anchor="end">10<tspan dy="-12.6" font-size="14.9">0</tspan></text>
<text transform="translate(85.9,33.10) scale(1,1.050)" font-size="25" text-anchor="end">10<tspan dy="-12.6" font-size="14.9">2</tspan></text>
<text x="311" y="396.3" font-size="24.2" text-anchor="middle">Drain voltage [V]</text>
<text transform="translate(28.8,196.3) rotate(-90)" x="0" y="0" font-size="24.7" text-anchor="middle">Drain current [A/mm]</text>
<text transform="translate(148.00,128.20) scale(1,1.06)" font-size="15.5" fill="#000">140 V</text>
<text transform="translate(326.50,101.80) scale(1,1.06)" font-size="15.5" fill="#00ff00">306 V</text>
<text transform="translate(352.00,132.80) scale(1,1.06)" font-size="15.5" fill="#ff0000">424 V</text>
<text transform="translate(469.50,131.70) scale(1,1.06)" font-size="15.5" fill="#0000ff">586 V</text>
</svg>
</body></html>
